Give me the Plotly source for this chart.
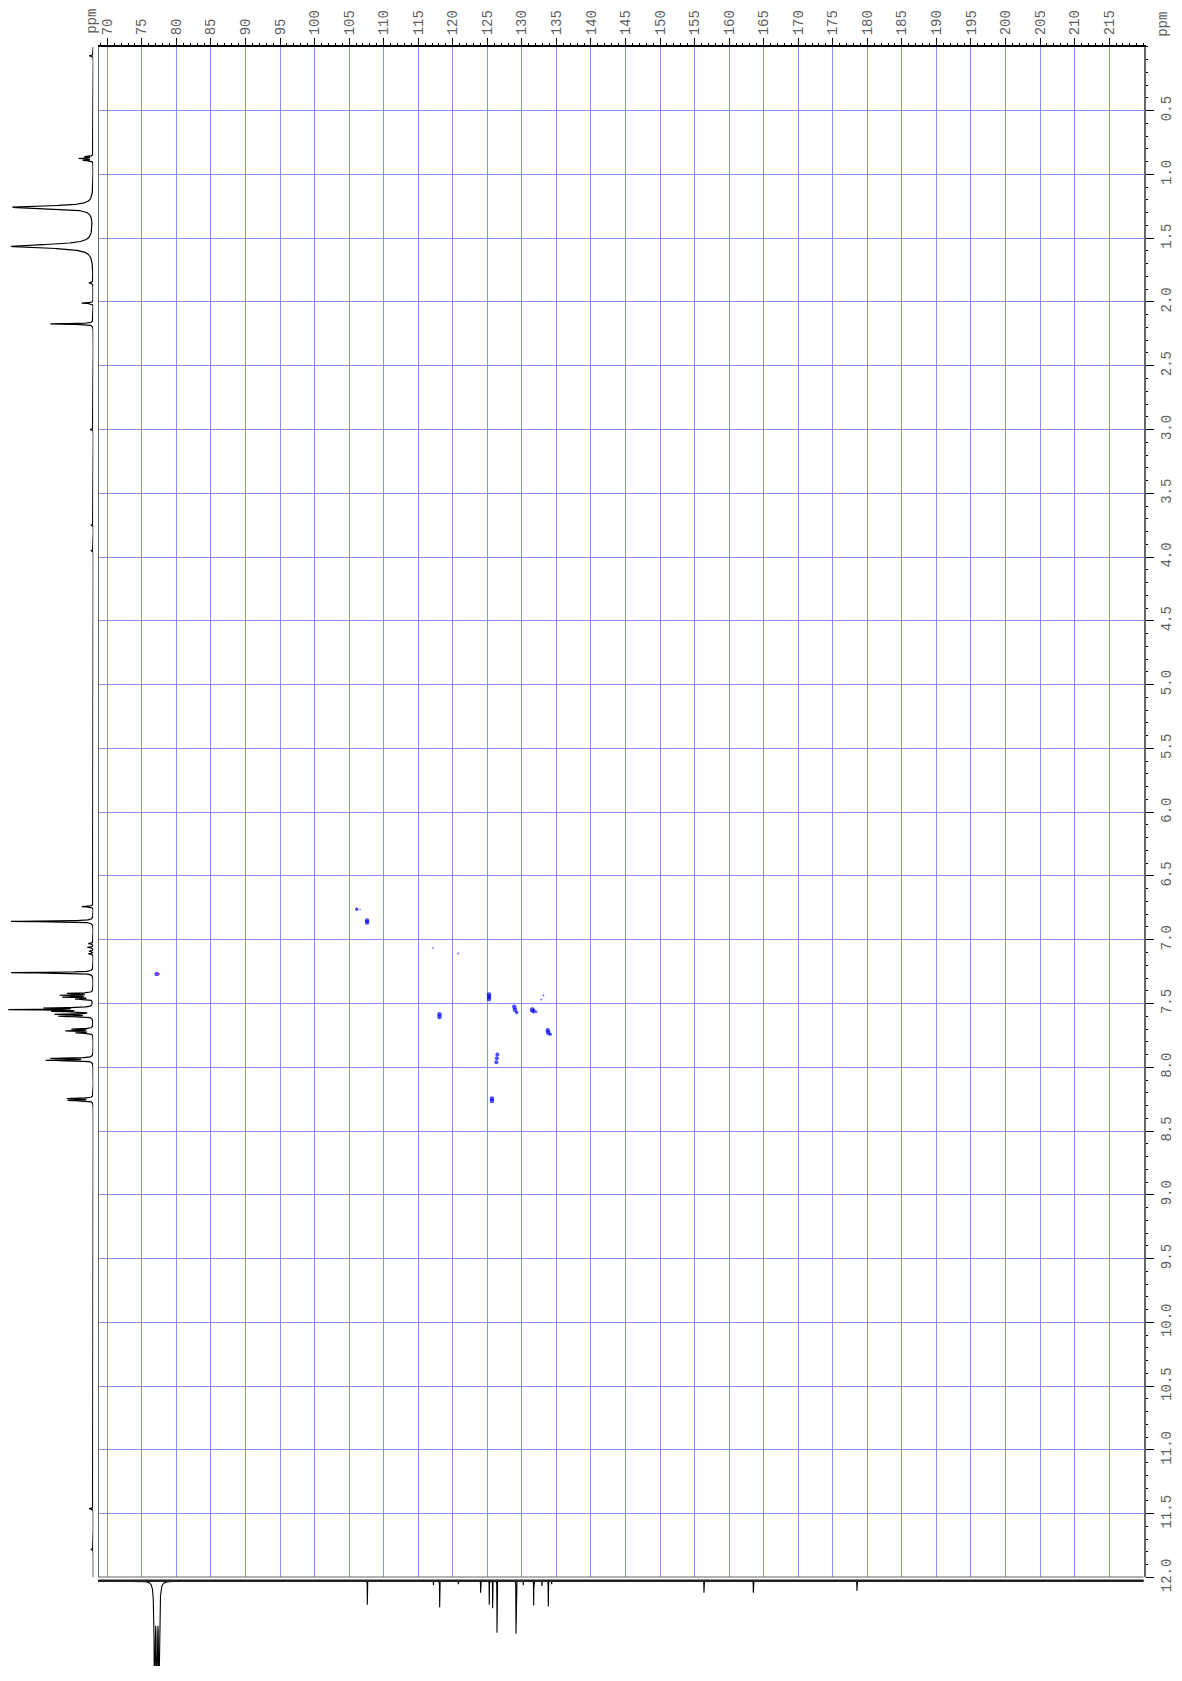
import numpy as np
import plotly.graph_objects as go

# ---------------- data ----------------
# 1H projection (left): peak position (ppm), relative height, half width (ppm)
H_PPM = [0.07, 0.86, 0.875, 0.89, 1.257, 1.563, 1.85, 2.009, 2.172, 3.0, 3.75, 3.95,
         6.74, 6.856, 7.03, 7.06, 7.09, 7.11, 7.258,
         7.42, 7.435, 7.45, 7.465, 7.535, 7.548, 7.562, 7.585, 7.60,
         7.70, 7.715, 7.73, 7.93, 7.945, 8.245, 8.26, 11.46, 11.78]
H_INT = [0.05, 0.10, 0.17, 0.12, 0.98, 1.0, 0.05, 0.14, 0.52, 0.04, 0.03, 0.03,
         0.14, 1.00, 0.06, 0.07, 0.05, 0.06, 1.00,
         0.30, 0.38, 0.35, 0.20, 0.55, 0.98, 0.45, 0.44, 0.40,
         0.25, 0.32, 0.20, 0.50, 0.56, 0.31, 0.30, 0.05, 0.03]
H_WID = [0.003, 0.003, 0.003, 0.003, 0.012, 0.016, 0.004, 0.003, 0.003, 0.003, 0.003, 0.003,
         0.003, 0.003, 0.003, 0.003, 0.003, 0.003, 0.003,
         0.003, 0.003, 0.003, 0.003, 0.003, 0.003, 0.003, 0.003, 0.003,
         0.003, 0.003, 0.003, 0.003, 0.003, 0.003, 0.003, 0.003, 0.003]

# 13C projection (bottom): peak position (ppm), relative depth, half width (ppm)
C_PPM = [76.84, 77.16, 77.48, 107.63, 117.2, 118.1, 120.8, 124.03, 125.28, 125.77,
         126.40, 129.15, 130.2, 131.71, 132.9, 133.82, 134.3, 156.35, 163.5, 178.5]
C_INT = [1.5, 1.6, 1.5, 0.28, 0.05, 0.31, 0.04, 0.14, 0.28, 0.32,
         0.61, 0.62, 0.05, 0.29, 0.06, 0.30, 0.04, 0.14, 0.14, 0.12]
C_WID = [0.07, 0.07, 0.07, 0.012, 0.012, 0.012, 0.012, 0.012, 0.012, 0.012,
         0.012, 0.012, 0.012, 0.012, 0.012, 0.012, 0.012, 0.012, 0.012, 0.012]

# HSQC cross peaks: 13C ppm, 1H ppm, marker size, colour
XP_C13 = [77.15, 77.45, 106.1, 106.6, 107.6, 107.6, 117.13, 120.80, 117.95,
          118.07, 118.07, 125.24, 125.24, 125.24, 128.9, 129.0, 129.25,
          131.5, 131.7, 132.1, 132.8, 133.1, 133.75, 133.8, 134.1,
          126.45, 126.38, 126.3, 125.67, 125.67]
XP_H1 = [7.268, 7.268, 6.760, 6.762, 6.850, 6.865, 7.064, 7.107, 7.500,
         7.585, 7.605, 7.430, 7.447, 7.465, 7.525, 7.548, 7.570,
         7.548, 7.560, 7.565, 7.468, 7.437, 7.710, 7.730, 7.740,
         7.900, 7.930, 7.960, 8.245, 8.265]
XP_SIZE = [4.5, 2.5, 3.5, 2, 4.5, 4.5, 2, 2, 1.5,
           4.5, 4.5, 4.5, 4.5, 4.5, 4.5, 4.5, 3.5,
           5, 4.5, 2.5, 2, 2, 4.5, 4.5, 3.5,
           4, 4, 4, 4.5, 4.5]
XP_COLOR = ["#0000ff", "#ff2020", "#0000ff", "#8080ff", "#0000ff", "#0000ff", "#6060ff", "#3030ff", "#9090ff",
            "#0000ff", "#0000ff", "#0000ff", "#0000ff", "#0000ff", "#0000ff", "#0000ff", "#0000ff",
            "#0000ff", "#0000ff", "#3030ff", "#3030ff", "#3030ff", "#0000ff", "#0000ff", "#0000ff",
            "#0000ff", "#0000ff", "#0000ff", "#0000ff", "#0000ff"]

X_TICKS = list(range(70, 220, 5))
Y_TICKS = [0.5, 1.0, 1.5, 2.0, 2.5, 3.0, 3.5, 4.0, 4.5, 5.0, 5.5, 6.0,
           6.5, 7.0, 7.5, 8.0, 8.5, 9.0, 9.5, 10.0, 10.5, 11.0, 11.5, 12.0]
Y_TICKTEXT = ["%.1f" % v for v in Y_TICKS]

X_RANGE = [68.65, 220.0]
Y_RANGE = [12.0, 0.0]

# ---------------- build ----------------
W, H = 1182, 1681


def lorentz_sum(grid, centers, heights, widths):
    s = np.zeros_like(grid)
    for c, h, w in zip(centers, heights, widths):
        s += h * w * w / (w * w + (grid - c) ** 2)
    return s


h_grid = np.round(np.arange(0.0, 12.0 + 1e-9, 0.0005), 4)
h_spec = np.round(lorentz_sum(h_grid, H_PPM, H_INT, H_WID), 4)

c_grid = np.round(np.arange(68.6, 220.05, 0.005), 3)
c_spec = -np.round(lorentz_sum(c_grid, C_PPM, C_INT, C_WID), 4)

FONT = dict(family="Liberation Mono, Courier New, monospace", size=14, color="#5e5e5e")
GRID = "#8c8cff"

fig = go.Figure()

# cross peaks
fig.add_trace(go.Scatter(
    x=XP_C13, y=XP_H1, mode="markers", xaxis="x", yaxis="y",
    marker=dict(size=XP_SIZE, color=XP_COLOR, line=dict(width=0)),
    hoverinfo="skip"))

# 1H projection (left)
fig.add_trace(go.Scatter(
    x=h_spec, y=h_grid, mode="lines", xaxis="x2", yaxis="y2",
    line=dict(color="black", width=1.2), hoverinfo="skip"))

# 13C projection (bottom)
fig.add_trace(go.Scatter(
    x=c_grid, y=c_spec, mode="lines", xaxis="x3", yaxis="y3",
    line=dict(color="black", width=1.1), hoverinfo="skip"))

x0 = 98 / W
x1 = 1143.7 / W
ytop = 1 - 47.3 / H
ybot = 1 - 1591.7 / H

fig.update_layout(
    width=W, height=H,
    margin=dict(l=0, r=0, t=0, b=0),
    paper_bgcolor="white", plot_bgcolor="rgba(0,0,0,0)",
    showlegend=False,
    xaxis=dict(
        domain=[x0, x1], range=X_RANGE, side="top", anchor="y",
        tickmode="array", tickvals=X_TICKS, ticktext=[str(v) for v in X_TICKS],
        tickangle=-90, tickfont=FONT,
        ticks="outside", ticklen=7, tickwidth=1.2, tickcolor="black",
        showgrid=True, gridcolor=GRID, gridwidth=1,
        showline=True, linecolor="black", linewidth=1.5,
        zeroline=False,
        minor=dict(dtick=1, tick0=0, ticks="outside", ticklen=2.5, tickcolor="black",
                   tickwidth=1, showgrid=False),
    ),
    yaxis=dict(
        domain=[ybot, ytop], range=Y_RANGE, side="right", anchor="x",
        tickmode="array", tickvals=Y_TICKS, ticktext=Y_TICKTEXT,
        tickangle=-90, tickfont=FONT,
        ticks="outside", ticklen=8, tickwidth=1.2, tickcolor="black",
        showgrid=True, gridcolor=GRID, gridwidth=1,
        showline=True, linecolor="#666666", linewidth=2,
        zeroline=False,
        minor=dict(dtick=0.1, tick0=0, ticks="outside", ticklen=2.5, tickcolor="black",
                   tickwidth=1, showgrid=False),
    ),
    xaxis2=dict(
        domain=[0, 93.3 / W], range=[1.134, 0], anchor="y2",
        visible=False, showgrid=False, zeroline=False,
    ),
    yaxis2=dict(
        domain=[ybot, ytop], range=Y_RANGE, anchor="x2",
        visible=False, showgrid=False, zeroline=False,
    ),
    xaxis3=dict(
        domain=[x0, x1], range=X_RANGE, anchor="y3",
        visible=False, showgrid=False, zeroline=False,
    ),
    yaxis3=dict(
        domain=[0, 1 - 1592 / H], range=[-1.0, 0.036], anchor="x3",
        visible=False, showgrid=False, zeroline=False,
    ),
    shapes=[
        # left and bottom frame of the 2D area
        dict(type="line", xref="x", yref="y", x0=X_RANGE[0], x1=X_RANGE[0], y0=0, y1=12,
             line=dict(color="#666666", width=2)),
        dict(type="line", xref="x", yref="y", x0=X_RANGE[0], x1=X_RANGE[1], y0=12, y1=12,
             line=dict(color="#666666", width=2)),
        # noisy 13C baseline band
        dict(type="line", xref="x3", yref="y3", x0=X_RANGE[0], x1=X_RANGE[1], y0=0, y1=0,
             line=dict(color="#222222", width=2.5)),
    ],
    annotations=[
        dict(text="ppm", x=92 / W, y=1 - 22 / H, xref="paper", yref="paper",
             showarrow=False, textangle=-90, font=FONT, xanchor="center", yanchor="middle"),
        dict(text="ppm", x=1163 / W, y=1 - 25 / H, xref="paper", yref="paper",
             showarrow=False, textangle=-90, font=FONT, xanchor="center", yanchor="middle"),
    ],
)

fig.write_html("out.html")
